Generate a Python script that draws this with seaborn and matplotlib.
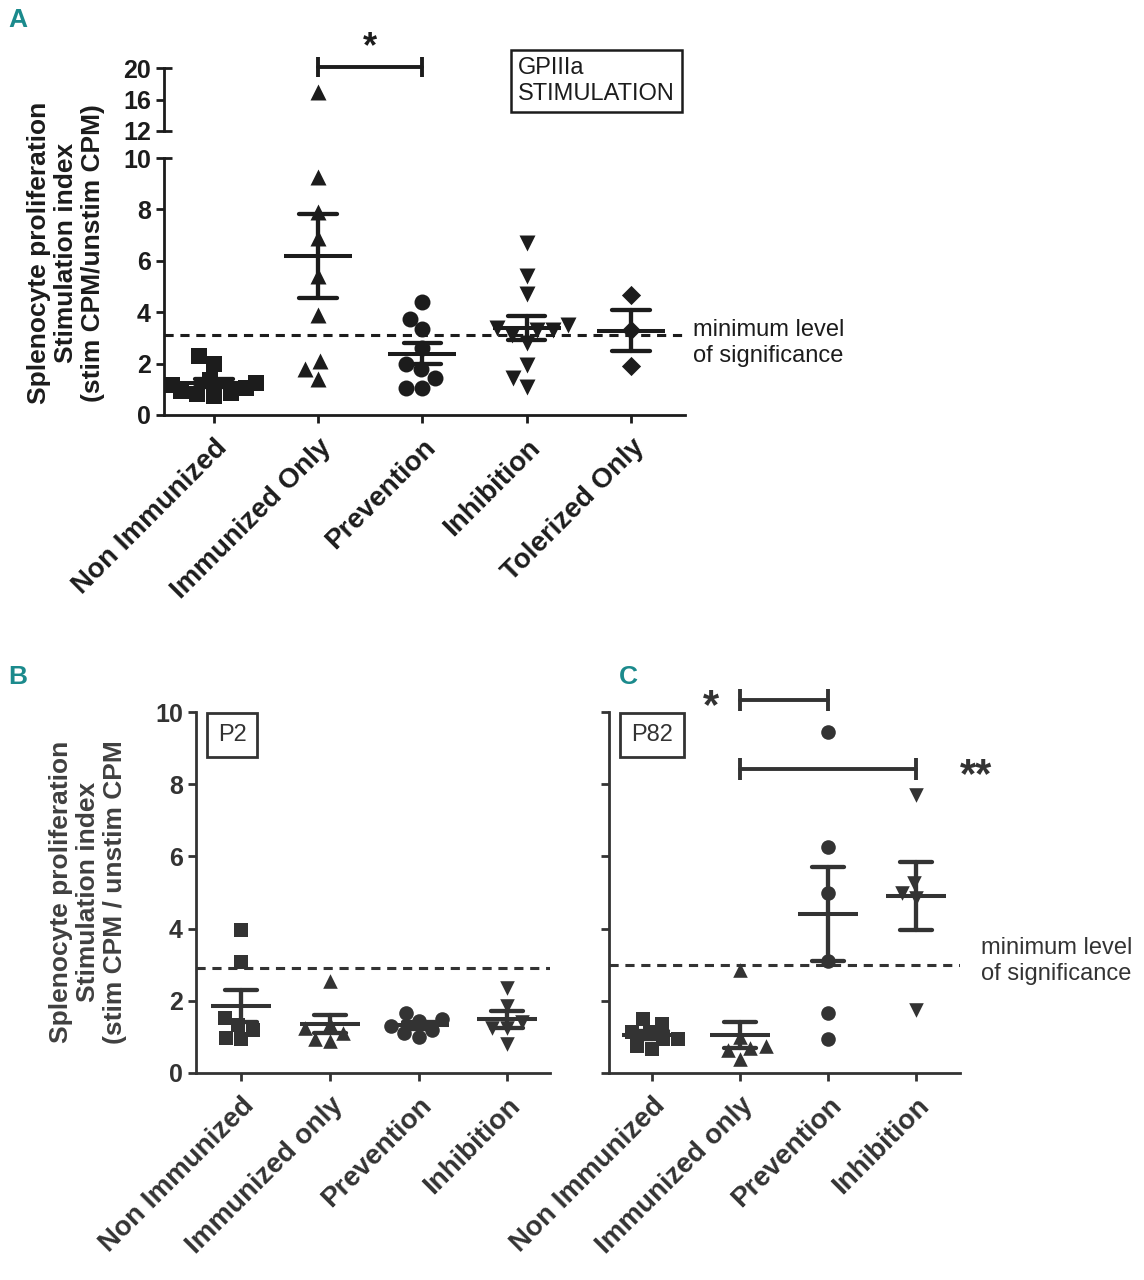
import warnings
import numpy as np
import pandas as pd
import seaborn as sns
import matplotlib.pyplot as plt

warnings.filterwarnings("ignore")

# Panel A - GPIIIa stimulation
cats_a = ["Non Immunized", "Immunized Only", "Prevention", "Inhibition", "Tolerized Only"]
non_imm_a = [2.3, 2.0, 1.35, 1.25, 1.15, 1.05, 0.95, 0.85, 0.8, 0.75]
imm_only_a = [17.0, 9.25, 7.9, 6.9, 5.4, 3.9, 2.1, 1.8, 1.4]
prevention_a = [4.4, 3.75, 3.35, 2.6, 2.0, 1.8, 1.45, 1.05, 1.05]
inhibition_a = [6.7, 5.4, 4.7, 3.5, 3.4, 3.3, 3.3, 3.1, 2.8, 1.95, 1.45, 1.1]
tolerized_a = [4.65, 3.3, 1.9]
threshold_a = 3.1

# Panels B (P2) and C (P82)
cats_bc = ["Non Immunized", "Immunized only", "Prevention", "Inhibition"]
non_imm_b = [3.97, 3.07, 1.53, 1.34, 1.2, 0.97, 0.93]
imm_only_b = [2.55, 1.35, 1.25, 1.1, 0.95, 0.9]
prevention_b = [1.67, 1.5, 1.45, 1.3, 1.2, 1.1, 1.0]
inhibition_b = [2.36, 1.85, 1.4, 1.25, 1.25, 0.79]
threshold_b = 2.9

non_imm_c = [1.5, 1.36, 1.13, 1.13, 0.94, 0.94, 0.75, 0.66]
imm_only_c = [2.85, 1.0, 0.75, 0.7, 0.65, 0.4]
prevention_c = [9.45, 6.25, 5.0, 3.1, 1.65, 0.95]
inhibition_c = [7.7, 5.25, 5.0, 4.85, 1.75]
threshold_c = 3.0

markers_a = ["s", "^", "o", "v", "D"]
markers_bc = ["s", "^", "o", "v"]

sns.set_theme(style="ticks")
plt.rcParams["font.family"] = ["Liberation Sans", "DejaVu Sans"]

DARK = "#1c1c1c"
GREY = "#333333"
TEAL = "#1b8a8c"

W, H = 1144, 1280
fig = plt.figure(figsize=(W / 100, H / 100), dpi=100)


def px_axes(left, right, top, bottom):
    return fig.add_axes([left / W, 1 - bottom / H, (right - left) / W, (bottom - top) / H])


def long_df(cats, groups):
    rows = []
    for c, vals in zip(cats, groups):
        rows += [(c, v) for v in vals]
    return pd.DataFrame(rows, columns=["group", "value"])


def draw_points(ax, df, cats, markers, color, size):
    for c, m in zip(cats, markers):
        sz = size * 0.85 if m == "D" else size
        sns.swarmplot(data=df[df.group == c], x="group", y="value", order=cats,
                      marker=m, color=color, size=sz, linewidth=0, ax=ax, zorder=2)


def draw_mean_sem(ax, df, cats, color, width):
    sns.pointplot(data=df, x="group", y="value", order=cats, errorbar="se",
                  capsize=0.36, linestyle="none", marker="_", markersize=width,
                  markeredgewidth=2.9, color=color, err_kws={"linewidth": 3.1},
                  ax=ax, zorder=3)


def style_axis(ax, color, lw=2.0):
    sns.despine(ax=ax)
    for s in ["left", "bottom"]:
        ax.spines[s].set_linewidth(lw)
        ax.spines[s].set_color(color)
    ax.tick_params(direction="out", length=6, width=lw, colors=color, labelcolor=color)
    ax.set_xlabel("")
    ax.set_ylabel("")


def cap(ax, y, color, lw=2.0):
    ax.plot([0, 0.016], [y, y], transform=ax.get_yaxis_transform(), color=color,
            lw=lw, clip_on=False, solid_capstyle="butt")


# ---------------- Panel A ----------------
df_a = long_df(cats_a, [non_imm_a, imm_only_a, prevention_a, inhibition_a, tolerized_a])
ax_a = px_axes(164, 685, 158, 415)
ax_t = px_axes(164, 685, 68, 131)

draw_points(ax_a, df_a, cats_a, markers_a, DARK, 11.5)
draw_mean_sem(ax_a, df_a, cats_a, DARK, 49)
draw_points(ax_t, df_a, cats_a, markers_a, DARK, 11.5)

ax_a.axhline(threshold_a, color=DARK, lw=2.2, ls=(0, (3, 2.2)), zorder=1)

for ax in (ax_a, ax_t):
    ax.set_xlim(-0.48, 4.52)
ax_a.set_ylim(0, 10)
ax_a.set_yticks([0, 2, 4, 6, 8, 10])
ax_t.set_ylim(12, 20)
ax_t.set_yticks([12, 16, 20])
style_axis(ax_a, DARK)
style_axis(ax_t, DARK)
ax_t.spines["bottom"].set_visible(False)
ax_t.tick_params(axis="x", bottom=False, labelbottom=False)
cap(ax_a, 10, DARK)
cap(ax_t, 12, DARK)
cap(ax_t, 20, DARK)

for ax in (ax_a, ax_t):
    for lab in ax.get_yticklabels():
        lab.set_fontsize(18)
        lab.set_fontweight("bold")
ax_a.set_xticks(range(len(cats_a)))
ax_a.set_xticklabels(cats_a, rotation=45, ha="right", rotation_mode="anchor",
                     fontsize=20, fontweight="bold")
ax_a.tick_params(axis="x", pad=8)

# significance bar Immunized Only vs Prevention
i1, i2 = cats_a.index("Immunized Only"), cats_a.index("Prevention")
ax_t.plot([i1, i2], [20.1, 20.1], color=DARK, lw=2.8, clip_on=False)
ax_t.vlines([i1, i2], 18.8, 21.4, color=DARK, lw=2.8, clip_on=False)
ax_t.text((i1 + i2) / 2, 22.6, "*", ha="center", va="center", fontsize=26,
          fontweight="bold", color=DARK, clip_on=False)

fig.text(518 / W, 1 - 81 / H, "GPIIIa\nSTIMULATION", ha="left", va="center",
         fontsize=17, color=DARK, linespacing=1.25,
         bbox=dict(boxstyle="square,pad=0.3", fc="white", ec=DARK, lw=1.8))
fig.text(693 / W, 1 - 343 / H, "minimum level\nof significance", ha="left",
         va="center", fontsize=17, color=DARK, linespacing=1.25)
fig.text(66 / W, 1 - 253 / H,
         "Splenocyte proliferation\nStimulation index\n(stim CPM/unstim CPM)",
         rotation=90, ha="center", va="center", multialignment="center",
         fontsize=19, fontweight="bold", color=DARK, linespacing=1.15)
fig.text(18 / W, 1 - 20 / H, "A", ha="center", va="center", fontsize=19,
         fontweight="bold", color=TEAL)

# ---------------- Panels B and C ----------------
df_b = long_df(cats_bc, [non_imm_b, imm_only_b, prevention_b, inhibition_b])
df_c = long_df(cats_bc, [non_imm_c, imm_only_c, prevention_c, inhibition_c])

ax_b = px_axes(196, 550, 712, 1073)
ax_c = px_axes(609, 960, 712, 1073)

for ax, df, thr in ((ax_b, df_b, threshold_b), (ax_c, df_c, threshold_c)):
    draw_points(ax, df, cats_bc, markers_bc, GREY, 10.5)
    draw_mean_sem(ax, df, cats_bc, GREY, 43)
    ax.axhline(thr, color=GREY, lw=2.2, ls=(0, (3, 2.2)), zorder=1)
    ax.set_ylim(0, 10)
    ax.set_yticks([0, 2, 4, 6, 8, 10])
    style_axis(ax, GREY)
    ax.set_xticks(range(len(cats_bc)))
    ax.set_xticklabels(cats_bc, rotation=45, ha="right", rotation_mode="anchor",
                       fontsize=20, fontweight="bold")
    ax.tick_params(axis="x", pad=8)

ax_b.set_xlim(-0.51, 3.48)
ax_c.set_xlim(-0.49, 3.5)
for lab in ax_b.get_yticklabels():
    lab.set_fontsize(18)
    lab.set_fontweight("bold")
ax_c.tick_params(axis="y", labelleft=False)

# significance bars in C
j1, j2, j3 = (cats_bc.index(c) for c in ["Immunized only", "Prevention", "Inhibition"])
ax_c.plot([j1, j2], [10.33, 10.33], color=GREY, lw=2.8, clip_on=False)
ax_c.vlines([j1, j2], 10.02, 10.64, color=GREY, lw=2.8, clip_on=False)
ax_c.text(0.67, 10.15, "*", ha="center", va="center", fontsize=30,
          fontweight="bold", color=GREY, clip_on=False)
ax_c.plot([j1, j3], [8.42, 8.42], color=GREY, lw=2.8, clip_on=False)
ax_c.vlines([j1, j3], 8.12, 8.72, color=GREY, lw=2.8, clip_on=False)
ax_c.text(3.5, 8.22, "**", ha="left", va="center", fontsize=30,
          fontweight="bold", color=GREY, clip_on=False)

fig.text(232 / W, 1 - 735 / H, "P2", ha="center", va="center", fontsize=17,
         color=GREY, bbox=dict(boxstyle="square,pad=0.45", fc="white", ec=GREY, lw=2))
fig.text(652 / W, 1 - 735 / H, "P82", ha="center", va="center", fontsize=17,
         color=GREY, bbox=dict(boxstyle="square,pad=0.45", fc="white", ec=GREY, lw=2))
fig.text(981 / W, 1 - 961 / H, "minimum level\nof significance", ha="left",
         va="center", fontsize=17, color=GREY, linespacing=1.25)
fig.text(88 / W, 1 - 892 / H,
         "Splenocyte proliferation\nStimulation index\n(stim CPM / unstim CPM",
         rotation=90, ha="center", va="center", multialignment="center",
         fontsize=19, fontweight="bold", color="#404040", linespacing=1.15)
fig.text(18 / W, 1 - 677 / H, "B", ha="center", va="center", fontsize=19,
         fontweight="bold", color=TEAL)
fig.text(628 / W, 1 - 677 / H, "C", ha="center", va="center", fontsize=19,
         fontweight="bold", color=TEAL)

fig.savefig("out.png", dpi=100, facecolor="white")
